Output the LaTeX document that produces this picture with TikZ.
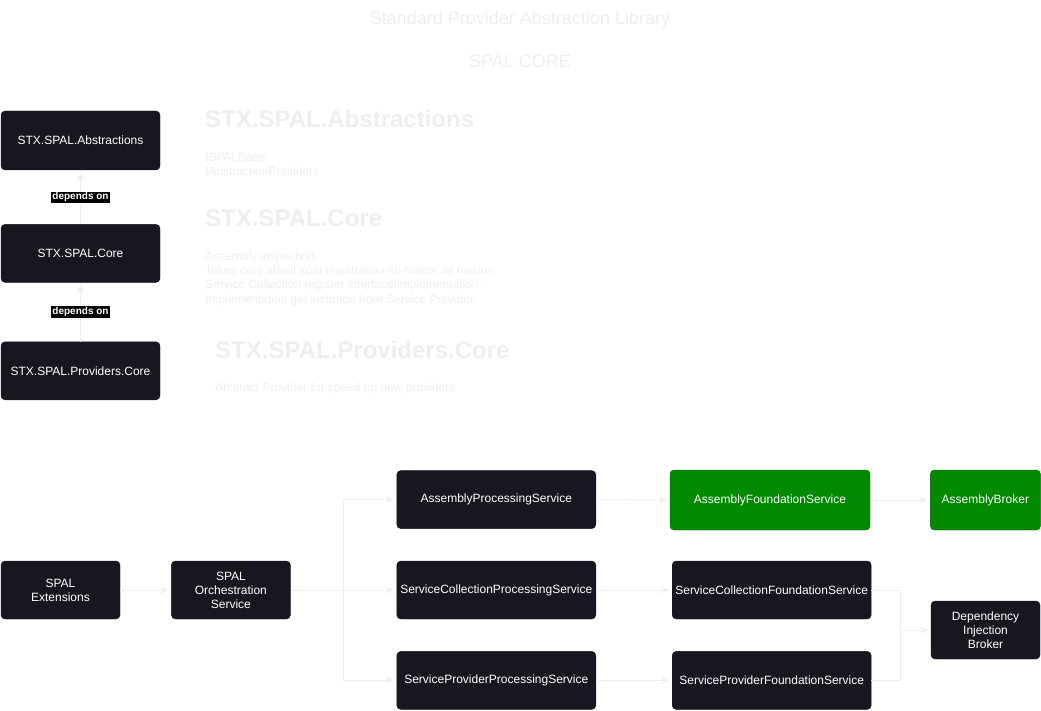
\documentclass[tikz,border=0pt]{standalone}
\usepackage{fontspec}
\setmainfont{Liberation Sans}
\usepackage{tikz}
\usetikzlibrary{positioning,arrows.meta}
\definecolor{boxdark}{RGB}{25,22,31}
\definecolor{boxgreen}{RGB}{0,138,0}
\definecolor{boxgreenline}{RGB}{0,87,0}
\definecolor{faint}{RGB}{238,238,238}
\tikzstyle{block} = [rectangle, draw=boxdark, fill=boxdark, text=white, align=center,
    rounded corners=4pt, minimum height=58pt, inner sep=1pt, font=\fontsize{12}{14}\selectfont]
\tikzstyle{greenblock} = [block, draw=boxgreenline, fill=boxgreen, minimum height=60pt]
\tikzstyle{link} = [draw=faint, line width=0.9pt, -{Stealth[length=8pt,width=7pt,inset=2.5pt]}, shorten >=3pt]
\tikzstyle{deplabel} = [fill=black, text=white, inner sep=1pt, font=\bfseries\fontsize{10}{11}\selectfont]
\tikzstyle{heading} = [text=faint, inner sep=0pt, anchor=base west, font=\bfseries\fontsize{24}{28}\selectfont]
\tikzstyle{note} = [text=faint, inner sep=0pt, anchor=base west, font=\fontsize{12}{14}\selectfont]
\tikzstyle{title} = [text=faint, inner sep=0pt, anchor=base, font=\fontsize{18}{22}\selectfont]
\begin{document}
\begin{tikzpicture}[x=1pt, y=-1pt]
    \useasboundingbox (0,0) rectangle (1041,711);
    % titles
    \node [title] (libtitle) at (520,25) {Standard Provider Abstraction Library};
    \node [title] (coretitle) at (520,68) {SPAL CORE};
    % package column
    \node [block, minimum width=159pt, minimum height=59pt] (abs) at (80.5,140.5) {STX.SPAL.Abstractions};
    \node [block, minimum width=159pt, below=54pt of abs] (core) {STX.SPAL.Core};
    \node [block, minimum width=159pt, below=59pt of core] (prov) {STX.SPAL.Providers.Core};
    \path [link] (core) -- node [deplabel] (dep1) {depends on} (abs);
    \path [link] (prov) -- node [deplabel] (dep2) {depends on} (core);
    % package notes
    \node [heading] (abshead) at (205,128) {STX.SPAL.Abstractions};
    \foreach \txt [count=\i] in {ISPALBase, IAbstractionProviders}
        \node [note] (absnote\i) at (205,148+14*\i) {\txt};
    \node [heading] (corehead) at (205,227) {STX.SPAL.Core};
    \foreach \txt [count=\i] in {Assembly inspection.,
        Takes care about spal registration no matter its nature.,
        Service Collection register interface/implementation.,
        Implementation get instance from Service Provider.}
        \node [note] (corenote\i) at (205,247+14*\i) {\txt};
    \node [heading] (provhead) at (215,358) {STX.SPAL.Providers.Core};
    \node [note] (provnote) at (215,391) {Abstract Provider for speed up new providers};
    % service flow
    \node [block, minimum width=119pt] (ext) at (60.5,590) {SPAL\\Extensions};
    \node [block, minimum width=119pt, right=51pt of ext] (orch) {SPAL\\Orchestration\\Service};
    \node [block, minimum width=199pt, right=106pt of orch] (scps) {ServiceCollectionProcessingService};
    \node [block, minimum width=199pt, above=32pt of scps] (aps) {AssemblyProcessingService};
    \node [block, minimum width=199pt, below=32pt of scps] (spps) {ServiceProviderProcessingService};
    \node [block, minimum width=199pt, right=76pt of scps] (scfs) {ServiceCollectionFoundationService};
    \node [greenblock, minimum width=200pt] (afs) at (770,500) {AssemblyFoundationService};
    \node [block, minimum width=199pt, below=32pt of scfs] (spfs) {ServiceProviderFoundationService};
    \node [greenblock, minimum width=110pt, right=60pt of afs] (ab) {AssemblyBroker};
    \node [block, minimum width=109pt] (dib) at (985.5,630) {Dependency\\Injection\\Broker};
    \coordinate (split) at (343,590);
    \coordinate (merge) at (900,630);
    % edges
    \path [link] (ext) -- (orch);
    \path [link] (orch) -- (split) |- (aps);
    \path [link] (split) -- (scps);
    \path [link] (split) |- (spps);
    \path [link] (aps) -- (afs);
    \path [link] (scps) -- (scfs);
    \path [link] (spps) -- (spfs);
    \path [link] (afs) -- (ab);
    \path [link] (scfs) -| (merge) -- (dib);
    \draw [faint, line width=0.9pt] (spfs) -| (merge);
\end{tikzpicture}
\end{document}
